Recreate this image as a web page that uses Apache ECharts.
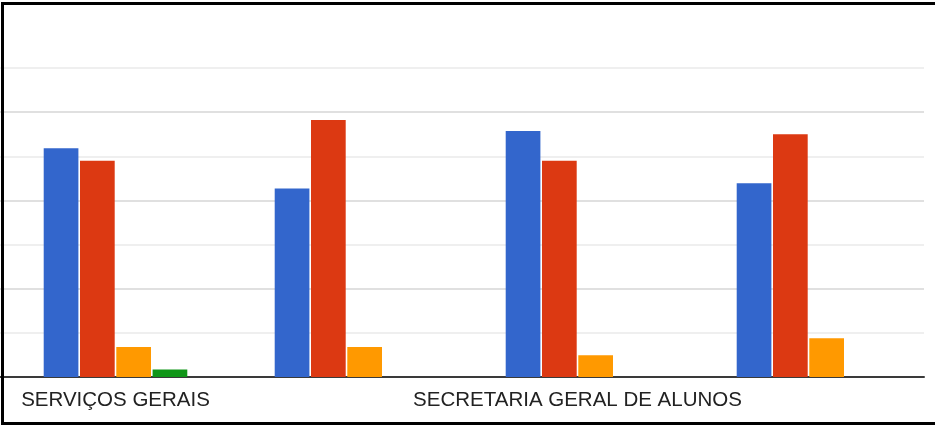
<!DOCTYPE html>
<html lang="pt">
<head>
    <meta charset="utf-8">
    <title>Setores</title>
    <script src="https://cdn.jsdelivr.net/npm/echarts@6/dist/echarts.min.js"></script>
    <style type="text/css">
        body {margin: 0; background: #fff; overflow: hidden;}
        #chart {position: absolute; left: 0; top: 0; width: 935px; height: 428px;}
        #frame {
            position: absolute; left: 1px; top: 2px; width: 960px; height: 423px;
            box-sizing: border-box; border: 3px solid #000; border-right: none;
            pointer-events: none;
        }
    </style>
</head>
<body>
    <div id="chart"></div>
    <div id="frame"></div>
    <script>
        // categorias (so a 1a e a 3a aparecem no eixo)
        var categories = ['SERVIÇOS GERAIS', 'SETOR 2', 'SECRETARIA GERAL DE ALUNOS', 'SETOR 4'];
        var serieAzul = [51.8, 42.7, 55.7, 43.9];
        var serieVermelha = [49.0, 58.2, 49.0, 55.0];
        var serieLaranja = [6.8, 6.8, 4.9, 8.8];
        var serieVerde = [1.7, 0, 0, 0];
        var yTicks = [0, 10, 20, 30, 40, 50, 60, 70];

        var cores = ['#3366cc', '#dc3912', '#ff9900', '#109618'];
        var dados = [serieAzul, serieVermelha, serieLaranja, serieVerde];
        var nomes = ['Série 1', 'Série 2', 'Série 3', 'Série 4'];

        for (var series = [], i = 0; i < dados.length; i++) {
            series.push({
                name: nomes[i], type: 'bar', data: dados[i],
                barWidth: 34.7, barGap: '4.6%',
                itemStyle: {color: cores[i]},
                animation: false
            });
        }

        var chart = echarts.init(document.getElementById('chart'), null, {renderer: 'canvas'});
        chart.setOption({
            backgroundColor: '#fff',
            grid: {left: -3, right: 11, top: 68, bottom: 51, containLabel: false},
            xAxis: {
                type: 'category', data: categories,
                axisLine: {show: true, lineStyle: {color: '#3a3a3a', width: 2}},
                axisTick: {show: false},
                axisLabel: {
                    interval: 1, margin: 13, color: '#222',
                    fontFamily: 'Liberation Sans, Arial, sans-serif', fontSize: 20.5
                }
            },
            yAxis: {
                type: 'value', min: yTicks[0], max: yTicks[yTicks.length - 1], interval: 10,
                axisLine: {show: false}, axisTick: {show: false}, axisLabel: {show: false},
                splitLine: {lineStyle: {color: ['#e0e0e0', '#efefef'], width: 2}}
            },
            series: series
        });
    </script>
</body>
</html>
